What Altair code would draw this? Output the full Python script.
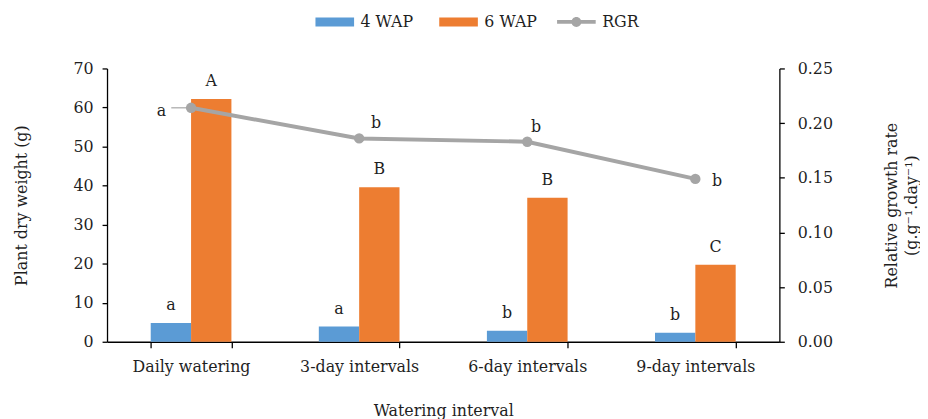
import altair as alt
import pandas as pd

categories = ["Daily watering", "3-day intervals", "6-day intervals", "9-day intervals"]
wap4 = [4.8, 3.9, 2.8, 2.3]
wap6 = [62.2, 39.6, 36.9, 19.7]
rgr = [0.214, 0.186, 0.183, 0.149]
wap4_letters = ["a", "a", "b", "b"]
wap6_letters = ["A", "B", "B", "C"]
rgr_letters = ["a", "b", "b", "b"]
bar_series = ["4 WAP", "6 WAP"]
bar_colors = ["#5B9BD5", "#ED7D31"]
line_color = "#A5A5A5"
left_ticks = [0, 10, 20, 30, 40, 50, 60, 70]
right_ticks = [0, 0.05, 0.10, 0.15, 0.20, 0.25]

FONT = "DejaVu Serif"
FS = 16
TXT = "#1f1f1f"

bars_df = pd.DataFrame({
    "cat": categories * 2,
    "series": [bar_series[0]] * 4 + [bar_series[1]] * 4,
    "value": wap4 + wap6,
    "letter": wap4_letters + wap6_letters,
})
line_df = pd.DataFrame({
    "cat": categories,
    "series": ["RGR"] * 4,
    "rgr": rgr,
    "letter": rgr_letters,
})

x_enc = alt.X(
    "cat:N", sort=categories,
    scale=alt.Scale(paddingInner=0.52, paddingOuter=0.26),
    axis=alt.Axis(title="Watering interval", labelAngle=0, tickBand="extent",
                  tickSize=6, labelPadding=11, titlePadding=28),
)
y_left = alt.Y(
    "value:Q", scale=alt.Scale(domain=[0, 70]),
    axis=alt.Axis(title="Plant dry weight (g)", values=left_ticks, grid=False,
                  tickSize=5, labelPadding=9, titlePadding=44),
)
y_right = alt.Y(
    "rgr:Q", scale=alt.Scale(domain=[0, 0.25]),
    axis=alt.Axis(title=["Relative growth rate", "(g.g⁻¹.day⁻¹)"], orient="right",
                  values=right_ticks, format=".2f", grid=False, tickSize=5,
                  labelPadding=13, titlePadding=48, titleAngle=270, titleLineHeight=20),
)

# symbol paths: start at the entry's left edge, 39px wide with symbolSize 169
bar_rect = "M-1,-0.7L5,-0.7L5,0.7L-1,0.7Z"
rgr_symbol = ("M-1,-0.3L5,-0.3L5,0.3L-1,0.3Z "
              "M2.77,0A0.77,0.77 0 1,1 1.23,0A0.77,0.77 0 1,1 2.77,0Z")

base_b = alt.Chart(bars_df)
bars = base_b.mark_bar().encode(
    x=x_enc, y=y_left, xOffset=alt.XOffset("series:N", sort=bar_series),
    color=alt.Color("series:N", scale=alt.Scale(domain=bar_series, range=bar_colors),
                    legend=alt.Legend(title=None, orient="none", direction="horizontal",
                                      legendX=209, legendY=-55, padding=0,
                                      symbolType=bar_rect, symbolSize=169,
                                      symbolStrokeWidth=0, symbolOpacity=1,
                                      labelFont=FONT, labelFontSize=FS, labelColor=TXT,
                                      labelOffset=31, columnPadding=24)),
)
bar_text = base_b.mark_text(baseline="bottom", dy=-10, font=FONT, fontSize=FS, color=TXT).encode(
    x=x_enc, y=y_left, xOffset=alt.XOffset("series:N", sort=bar_series), text="letter:N",
)
left = alt.layer(bars, bar_text)

base_l = alt.Chart(line_df)
rline = base_l.mark_line(strokeWidth=4, color=line_color).encode(x=x_enc, y=y_right)
pts = base_l.mark_circle(size=110, color=line_color).encode(
    x=x_enc, y=y_right,
    opacity=alt.Opacity("series:N", scale=alt.Scale(domain=["RGR"], range=[1]),
                        legend=alt.Legend(title=None, orient="none", direction="horizontal",
                                          legendX=453, legendY=-55, padding=0,
                                          symbolType=rgr_symbol, symbolSize=169,
                                          symbolFillColor=line_color, symbolStrokeWidth=0,
                                          labelFont=FONT, labelFontSize=FS, labelColor=TXT,
                                          labelOffset=31)),
)
leader = base_l.transform_filter(alt.datum.cat == categories[0]).mark_tick(
    orient="horizontal", size=18, thickness=1.2, color=line_color, xOffset=-11, opacity=1
).encode(x=x_enc, y=y_right)

offsets = [(-30, 3), (17, -16), (9, -15), (22, 2)]
rgr_texts = []
for c, (dx, dy) in zip(categories, offsets):
    rgr_texts.append(
        base_l.transform_filter(alt.datum.cat == c).mark_text(
            dx=dx, dy=dy, font=FONT, fontSize=FS, color=TXT, baseline="middle"
        ).encode(x=x_enc, y=y_right, text="letter:N")
    )
right = alt.layer(rline, leader, pts, *rgr_texts)

chart = alt.layer(left, right).resolve_scale(y="independent").properties(
    width=679, height=276, padding={"left": 5, "top": 4, "right": 0, "bottom": 5}
).configure_view(stroke=None).configure_axis(
    labelFont=FONT, titleFont=FONT, labelFontSize=FS, titleFontSize=FS,
    labelColor=TXT, titleColor=TXT, titleFontWeight="normal",
    domainColor="#000000", tickColor="#000000", domainWidth=1.3, tickWidth=1.3,
)

chart.save("out.html", embed_options={"renderer": "svg", "actions": False})
